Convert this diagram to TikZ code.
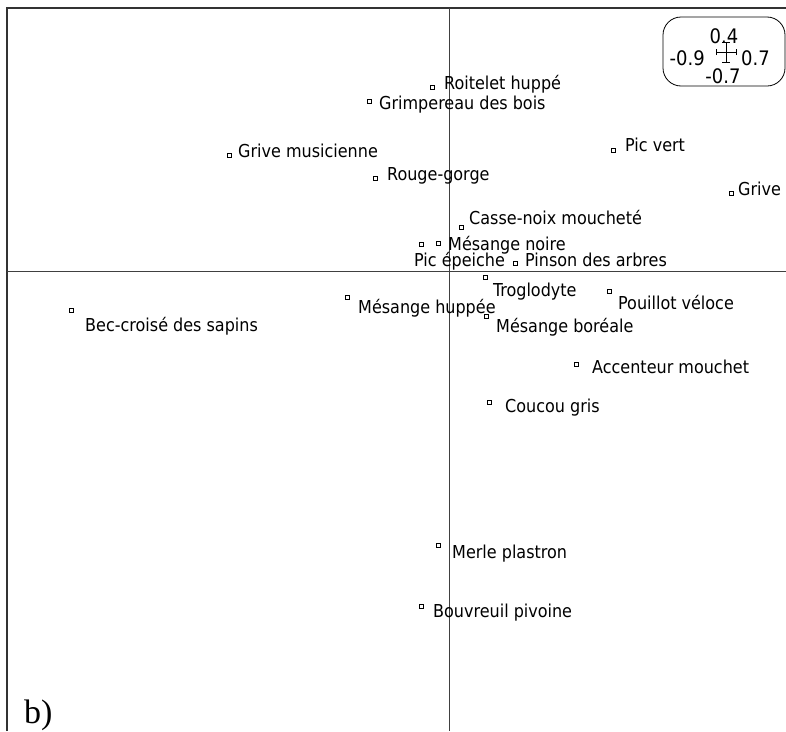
\documentclass[tikz,border=0pt]{standalone}
\usepackage{fontspec}
\setmainfont{DejaVu Sans Condensed}
\newfontfamily\serifb{Liberation Serif}
\begin{document}
\begin{tikzpicture}[x=1pt,y=-1pt,
  pt/.style={draw=black,fill=white,line width=0.6pt,inner sep=0pt,minimum size=3.6pt,rectangle},
  lab/.style={anchor=base west,inner sep=0pt,font=\fontsize{17.8}{20}\selectfont},
  leg/.style={inner sep=0pt,font=\fontsize{20}{22}\selectfont},
  frameline/.style={line width=1.1pt,draw=black!80},
  axis/.style={line width=1pt,draw=black!75}]
\useasboundingbox (0,0) rectangle (786,731);
% frame and axes
\coordinate (tl) at (7,8);
\coordinate (tr) at (786,8);
\coordinate (bl) at (7,731);
\coordinate (hl) at (7,271);
\coordinate (hr) at (786,271);
\coordinate (vt) at (449,8);
\coordinate (vb) at (449,731);
\draw[frameline] (bl) -- (tl) -- (tr);
\draw[axis] (hl) -- (hr);
\draw[axis] (vt) -- (vb);
% points
\node[pt] (p1) at (432,87) {};
\node[pt] (p2) at (369,101) {};
\node[pt] (p3) at (229,155) {};
\node[pt] (p4) at (375,178) {};
\node[pt] (p5) at (613,150) {};
\node[pt] (p6) at (731,193) {};
\node[pt] (p7) at (461,227) {};
\node[pt] (p8) at (421,244) {};
\node[pt] (p9) at (438,243) {};
\node[pt] (p10) at (515,263) {};
\node[pt] (p11) at (485,277) {};
\node[pt] (p12) at (347,297) {};
\node[pt] (p13) at (486,316) {};
\node[pt] (p14) at (609,291) {};
\node[pt] (p15) at (71,310) {};
\node[pt] (p16) at (576,364) {};
\node[pt] (p17) at (489,402) {};
\node[pt] (p18) at (438,545) {};
\node[pt] (p19) at (421,606) {};
% labels
\node[lab] (l1) at (444,89) {Roitelet huppé};
\node[lab] (l2) at (379,109) {Grimpereau des bois};
\node[lab] (l3) at (238,157) {Grive musicienne};
\node[lab] (l4) at (387,180) {Rouge-gorge};
\node[lab] (l5) at (625,151) {Pic vert};
\node[lab] (l6) at (738,195) {Grive};
\node[lab] (l7) at (469,224) {Casse-noix moucheté};
\node[lab] (l9) at (448,250) {Mésange noire};
\node[lab] (l8) at (414,266) {Pic épeiche};
\node[lab] (l10) at (525,266) {Pinson des arbres};
\node[lab] (l11) at (493,296) {Troglodyte};
\node[lab] (l12) at (358,313) {Mésange huppée};
\node[lab] (l13) at (496,332) {Mésange boréale};
\node[lab] (l14) at (618,309) {Pouillot véloce};
\node[lab] (l15) at (85,331) {Bec-croisé des sapins};
\node[lab] (l16) at (592,373) {Accenteur mouchet};
\node[lab] (l17) at (505,412) {Coucou gris};
\node[lab] (l18) at (452,558) {Merle plastron};
\node[lab] (l19) at (433,617) {Bouvreuil pivoine};
% legend box
\draw[line width=0.8pt,rounded corners=18pt] (663,17) rectangle (785,86);
\node[leg,anchor=base] (g1) at (724,43) {0.4};
\node[leg,anchor=base east] (g2) at (705,65) {-0.9};
\node[leg,anchor=base west] (g3) at (741,65) {0.7};
\node[leg,anchor=base] (g4) at (723,83) {-0.7};
\coordinate (cl) at (716,52);
\coordinate (cr) at (736,52);
\coordinate (ct) at (726,42);
\coordinate (cb) at (726,62);
\draw[line width=0.6pt] (cl) -- (cr) (ct) -- (cb);
\draw[line width=0.6pt] ([yshift=-3]cl) -- ([yshift=3]cl) ([yshift=-3]cr) -- ([yshift=3]cr)
  ([xshift=-4]ct) -- ([xshift=4]ct) ([xshift=-4]cb) -- ([xshift=4]cb);
% panel label
\node[anchor=base west,inner sep=0pt,font=\serifb\fontsize{34}{36}\selectfont] (b) at (24,723) {b)};
\end{tikzpicture}
\end{document}
